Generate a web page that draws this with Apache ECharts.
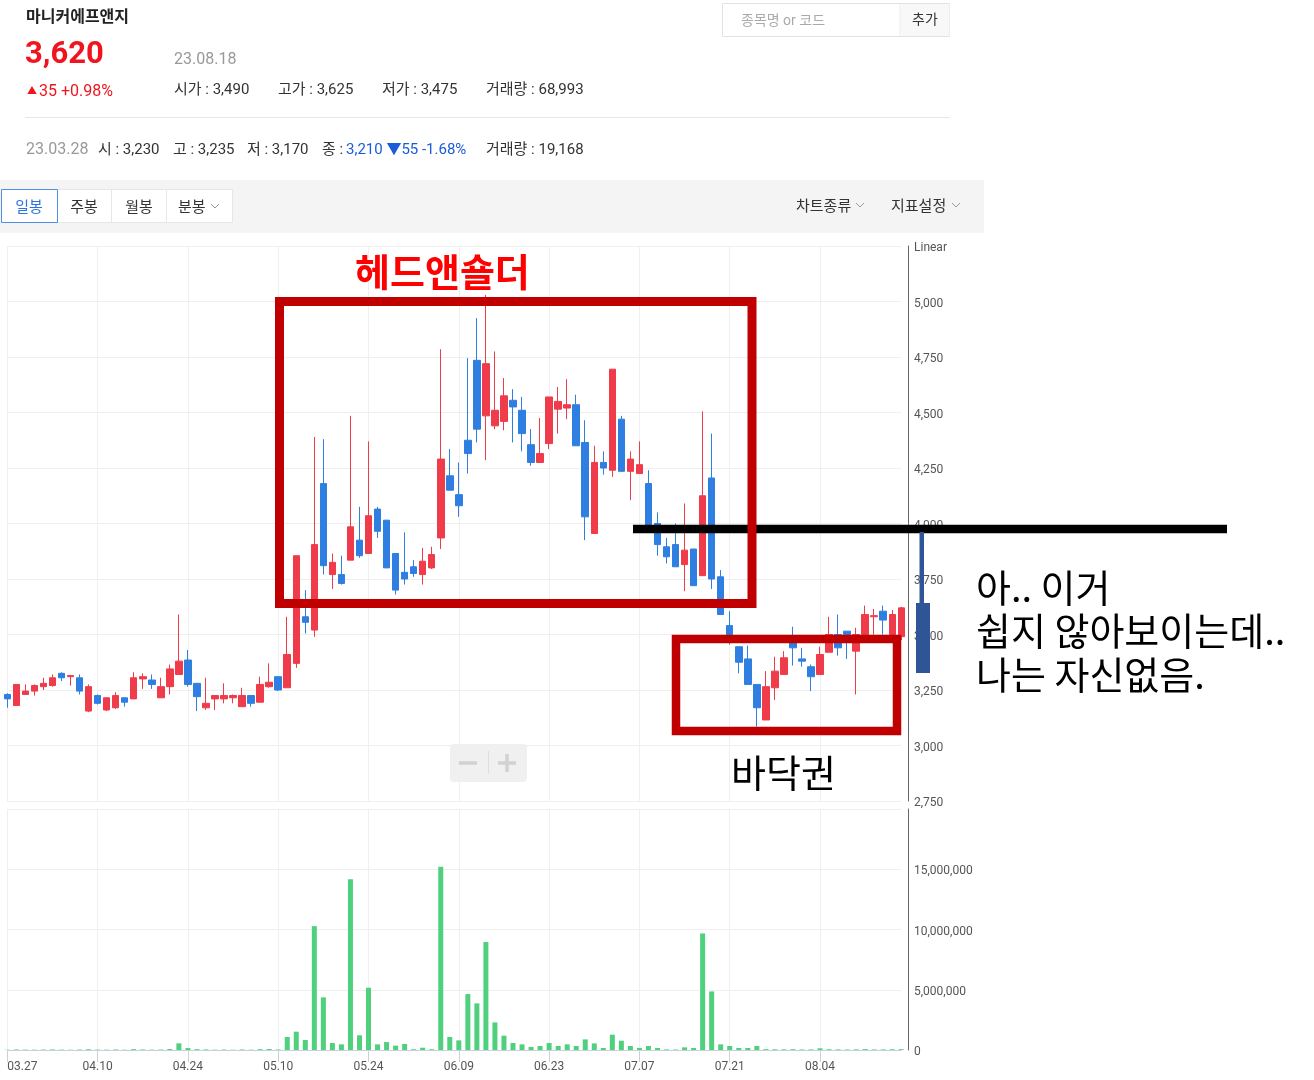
<!DOCTYPE html>
<html><head><meta charset="utf-8">
<script src="https://cdn.jsdelivr.net/npm/echarts@6/dist/echarts.min.js"></script>
<style>html,body{margin:0;padding:0;background:#fff;}#c{width:1314px;height:1080px;}</style>
</head><body><div id="c"></div>
<script>
const dates = ['03.27','03.28','03.29','03.30','03.31','04.03','04.04','04.05','04.06','04.07',
'04.10','04.11','04.12','04.13','04.14','04.17','04.18','04.19','04.20','04.21',
'04.24','04.25','04.26','04.27','04.28','05.02','05.03','05.04','05.08','05.09',
'05.10','05.11','05.12','05.15','05.16','05.17','05.18','05.19','05.22','05.23',
'05.24','05.25','05.26','05.30','05.31','06.01','06.02','06.05','06.07','06.08',
'06.09','06.12','06.13','06.14','06.15','06.16','06.19','06.20','06.21','06.22',
'06.23','06.26','06.27','06.28','06.29','06.30','07.03','07.04','07.05','07.06',
'07.07','07.10','07.11','07.12','07.13','07.14','07.17','07.18','07.19','07.20',
'07.21','07.24','07.25','07.26','07.27','07.28','07.31','08.01','08.02','08.03',
'08.04','08.07','08.08','08.09','08.10','08.11','08.14','08.16','08.17','08.18'];

const opens = [3230,3180,3230,3245,3265,3270,3325,3310,3305,3155,
3225,3160,3170,3215,3210,3300,3295,3215,3265,3320,
3385,3280,3170,3210,3210,3215,3175,3225,3195,3265,
3310,3260,3370,3580,3520,4180,3770,3770,3835,3925,
3865,4065,4015,3865,3780,3805,3770,3800,3935,4215,
4130,4375,4735,4485,4440,4460,4555,4510,4355,4275,
4360,4515,4520,4535,4365,3955,4275,4240,4470,4235,
4225,4180,4000,3895,3905,3815,3885,3765,4205,3760,
3540,3445,3390,3275,3115,3260,3320,3490,3390,3355,
3320,3420,3500,3515,3425,3500,3580,3605,3500,3490];
const closes = [3210,3275,3245,3270,3280,3305,3305,3315,3245,3265,
3190,3215,3225,3195,3305,3310,3275,3265,3345,3380,
3275,3220,3190,3225,3225,3225,3225,3190,3275,3285,
3250,3410,3855,3555,3905,3810,3825,3730,3985,3855,
4035,3965,3800,3700,3750,3775,3830,3860,4290,4150,
4080,4315,4425,4720,4510,4575,4525,4405,4275,4315,
4570,4550,4535,4350,4030,4275,4250,4695,4235,4290,
4265,3990,3905,3850,3805,3880,3720,4125,3750,3590,
3500,3375,3275,3170,3265,3335,3395,3440,3380,3310,
3410,3500,3440,3500,3500,3590,3585,3565,3590,3620];
const lows = [3170,3180,3230,3225,3250,3265,3290,3270,3230,3150,
3185,3155,3165,3175,3210,3255,3255,3215,3230,3320,
3265,3155,3160,3160,3190,3190,3175,3175,3195,3260,
3245,3260,3350,3505,3490,3770,3705,3725,3835,3845,
3865,3935,3800,3680,3725,3760,3725,3795,3885,4150,
4030,4225,4365,4285,4425,4420,4365,4325,4260,4275,
4335,4405,4470,4350,3925,3955,4220,4210,4235,4105,
4225,3990,3855,3820,3805,3695,3720,3765,3705,3590,
3455,3325,3275,3085,3115,3205,3320,3360,3355,3245,
3320,3420,3405,3390,3230,3500,3500,3500,3500,3475];
const highs = [3235,3275,3275,3275,3305,3320,3330,3315,3320,3275,
3230,3215,3240,3215,3330,3325,3320,3305,3365,3590,
3430,3280,3305,3225,3280,3230,3260,3225,3310,3370,
3310,3580,3855,3700,4390,4380,3865,3855,4485,4075,
4370,4075,4015,3865,3960,3835,3890,3895,4785,4335,
4275,4745,4925,5030,4775,4655,4605,4570,4425,4475,
4570,4615,4650,4580,4465,4350,4325,4695,4485,4325,
4370,4240,4050,3935,4000,4090,3885,4505,4405,3790,
3605,3445,3450,3275,3335,3400,3425,3535,3440,3365,
3445,3580,3590,3515,3530,3630,3615,3630,3610,3625];
const volumes = [19168,42000,31000,27000,35000,46000,30000,22000,38000,61000,
33000,29000,41000,24000,72000,45000,30000,36000,80000,553000,
160000,70000,48000,26000,39000,21000,44000,25000,67000,85000,
40000,1080000,1520000,830000,10280000,4370000,580000,470000,14180000,1220000,
5170000,470000,660000,360000,500000,60000,190000,60000,15200000,1080000,
800000,4640000,3870000,8960000,2290000,1190000,580000,470000,250000,330000,
580000,330000,470000,330000,880000,550000,170000,1270000,770000,330000,
170000,330000,170000,50000,40000,220000,170000,9670000,4860000,470000,
330000,170000,170000,330000,70000,60000,55000,65000,45000,50000,
140000,60000,50000,40000,55000,75000,45000,50000,60000,68993];

const UP = '#ef3b4a', DOWN = '#2e7fe1', VOL = '#4fd07c', GRID = '#efefef';
const F = 'Roboto, "Noto Sans CJK KR", sans-serif';
const K = '"Noto Sans CJK KR", sans-serif';

const ohlc = opens.map((o, i) => [o, closes[i], lows[i], highs[i]]);
const every10 = (i) => i % 10 === 0;

function txt(x, y, text, font, fill, extra, align) {
  return Object.assign({type:'text', x:x, y:y, z:50, style:{text:text, font:font, fill:fill, verticalAlign:'middle', align: align || 'left'}}, extra || {});
}
function rect(x, y, w, h, style, z, r) {
  return {type:'rect', z: z || 10, shape:{x:x, y:y, width:w, height:h, r: r || 0}, style: style};
}
function line(x1, y1, x2, y2, stroke, lw, z) {
  return {type:'line', z: z || 10, shape:{x1:x1, y1:y1, x2:x2, y2:y2}, style:{stroke:stroke, lineWidth:lw}};
}
function chevron(x, y) {
  return {type:'polyline', z:50, shape:{points:[[x, y - 2], [x + 4, y + 2], [x + 8, y - 2]]}, style:{stroke:'#999', lineWidth:1, fill:'none'}};
}

const RED = '#f0141e', BLUE = '#1a5bd8';
const graphics = [
  // header
  txt(26, 16, '마니커에프앤지', 'bold 16px ' + K, '#222'),
  txt(25, 55, '3,620', 'bold 31px ' + F, RED),
  txt(174, 60, '23.08.18', '16px ' + F, '#999'),
  txt(27, 91, '▲', '10px ' + F, RED),
  txt(39, 92, '35 +0.98%', '16px ' + F, RED),
  txt(174, 90, '시가 : 3,490', '15px ' + F, '#333'),
  txt(278, 90, '고가 : 3,625', '15px ' + F, '#333'),
  txt(382, 90, '저가 : 3,475', '15px ' + F, '#333'),
  txt(486, 90, '거래량 : 68,993', '15px ' + F, '#333'),
  line(25, 117.5, 950, 117.5, '#e6e6e6', 1),
  txt(26, 150, '23.03.28', '16px ' + F, '#999'),
  txt(98, 150, '시 : 3,230', '15px ' + F, '#333'),
  txt(173, 150, '고 : 3,235', '15px ' + F, '#333'),
  txt(247, 150, '저 : 3,170', '15px ' + F, '#333'),
  txt(322, 150, '종 :', '15px ' + F, '#333'),
  txt(346, 150, '3,210 ▼55 -1.68%', '15px ' + F, BLUE),
  txt(486, 150, '거래량 : 19,168', '15px ' + F, '#333'),
  // search box
  rect(722.5, 3.5, 227, 33, {fill:'#fff', stroke:'#e3e3e3', lineWidth:1}),
  rect(900, 4, 49.5, 32, {fill:'#f8f8f8'}),
  line(900, 4, 900, 36, '#ececec', 1),
  txt(741, 21, '종목명 or 코드', '14px ' + F, '#aaa'),
  txt(912, 20, '추가', '14px ' + F, '#333'),
  // toolbar
  rect(0, 180, 984, 53, {fill:'#f4f4f4'}),
  rect(57.5, 189.5, 54, 33, {fill:'#fff', stroke:'#e6e6e6', lineWidth:1}),
  rect(111.5, 189.5, 55, 33, {fill:'#fff', stroke:'#e6e6e6', lineWidth:1}),
  rect(166.5, 189.5, 66, 33, {fill:'#fff', stroke:'#e6e6e6', lineWidth:1}),
  rect(1.5, 189.5, 56, 33, {fill:'#fff', stroke:'#4d8fe8', lineWidth:1}),
  txt(29, 206, '일봉', '15px ' + K, '#2a74e0', null, 'center'),
  txt(84, 206, '주봉', '15px ' + K, '#333', null, 'center'),
  txt(139, 206, '월봉', '15px ' + K, '#333', null, 'center'),
  txt(178, 206, '분봉', '15px ' + K, '#333'),
  chevron(211, 206),
  txt(796, 205, '차트종류', '15px ' + K, '#333'),
  chevron(856, 205),
  txt(891, 205, '지표설정', '15px ' + K, '#333'),
  chevron(952, 205),
  // zoom control
  rect(450, 744, 77, 38, {fill:'#eeeeee', opacity:0.9}, 40, 4),
  line(459, 763, 477, 763, '#d2d2d2', 3.5, 41),
  line(488.5, 751, 488.5, 774, '#dedede', 1, 41),
  line(498, 763, 516, 763, '#d2d2d2', 3.5, 41),
  line(507, 754, 507, 772, '#d2d2d2', 3.5, 41),
  // annotations
  line(633, 529, 1227, 529, '#000', 8.5, 60),
  rect(279.5, 301.5, 472.5, 302, {fill:'none', stroke:'#c00000', lineWidth:9}, 61),
  rect(676, 639, 221, 92, {fill:'none', stroke:'#c00000', lineWidth:8.5}, 61),
  rect(919.5, 532, 4.5, 72, {fill:'#2f5597'}, 62),
  rect(916, 603, 14, 70, {fill:'#2f5597'}, 62),
  txt(355, 272, '헤드앤숄더', 'bold 38px ' + K, '#ff0000', {z:63}),
  txt(976, 588, '아.. 이거', '38px ' + K, '#000', {z:63}),
  txt(976, 631, '쉽지 않아보이는데..', '38px ' + K, '#000', {z:63}),
  txt(976, 675, '나는 자신없음.', '38px ' + K, '#000', {z:63}),
  txt(731, 773, '바닥권', '38px ' + K, '#000', {z:63})
];

const yLabelRich = {p:{padding:[4,0,0,0], fontSize:12, fontFamily:'Roboto', color:'#555'}};

const chart = echarts.init(document.getElementById('c'), null, {renderer:'canvas'});
chart.setOption({
  animation: false,
  backgroundColor: '#fff',
  grid: [
    {left: 7.3, top: 246, width: 894, height: 555, containLabel: false, outerBoundsMode: 'none'},
    {left: 7.3, top: 809, width: 894, height: 241, containLabel: false, outerBoundsMode: 'none'}
  ],
  xAxis: [
    {type:'category', gridIndex:0, data:dates, boundaryGap:false,
     axisLine:{show:false}, axisTick:{show:false}, axisLabel:{show:false},
     splitLine:{show:true, interval: every10, lineStyle:{color:GRID, width:1}}},
    {type:'category', gridIndex:1, data:dates, boundaryGap:false,
     axisLine:{show:true, lineStyle:{color:'#c9d1de', width:1}},
     axisTick:{show:true, interval: every10, length:12, lineStyle:{color:'#c9d1de'}},
     axisLabel:{interval: every10, margin:11, fontSize:12, fontFamily:'Roboto', color:'#555', alignMinLabel:'left'},
     splitLine:{show:true, interval: every10, lineStyle:{color:GRID, width:1}}}
  ],
  yAxis: [
    {type:'value', gridIndex:0, position:'right', offset:6.7, min:2750, max:5250, interval:250,
     axisLine:{show:true, lineStyle:{color:'#666', width:1}}, axisTick:{show:false},
     splitLine:{show:true, lineStyle:{color:GRID, width:1}},
     axisLabel:{showMinLabel:true, showMaxLabel:true, margin:6, fontSize:12, fontFamily:'Roboto', color:'#555',
       rich: yLabelRich,
       formatter: v => '{p|' + (v === 5250 ? 'Linear' : v.toLocaleString('en-US')) + '}'}},
    {type:'value', gridIndex:1, position:'right', offset:6.7, min:0, max:20000000, interval:5000000,
     axisLine:{show:true, lineStyle:{color:'#666', width:1}}, axisTick:{show:false},
     splitLine:{show:true, lineStyle:{color:GRID, width:1}},
     axisLabel:{showMinLabel:true, showMaxLabel:true, margin:6, fontSize:12, fontFamily:'Roboto', color:'#555',
       rich: yLabelRich,
       formatter: v => v === 20000000 ? '' : '{p|' + v.toLocaleString('en-US') + '}'}}
  ],
  series: [
    {type:'candlestick', xAxisIndex:0, yAxisIndex:0, data:ohlc, barWidth:7, clip:false,
     itemStyle:{color:UP, color0:DOWN, borderColor:UP, borderColor0:DOWN, borderWidth:1}},
    {type:'bar', xAxisIndex:1, yAxisIndex:1, data:volumes, barWidth:5, clip:false,
     itemStyle:{color:VOL}}
  ],
  graphic: graphics
});
</script></body></html>
